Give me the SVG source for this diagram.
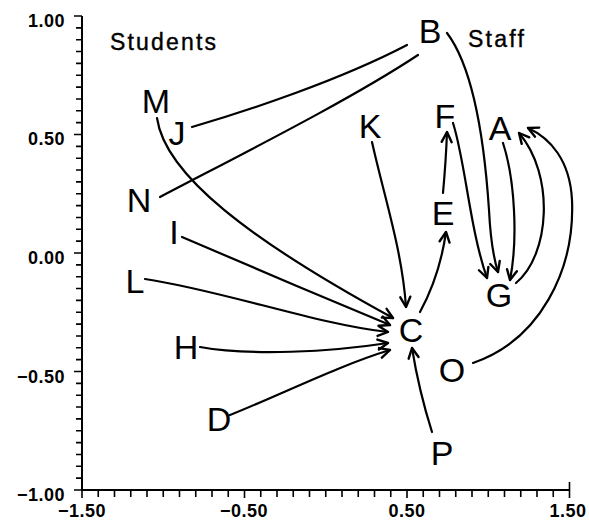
<svg xmlns="http://www.w3.org/2000/svg" width="589" height="521" viewBox="0 0 589 521">
<style>
.ax{stroke:#000;stroke-width:2;fill:none}
.tk{stroke:#000;stroke-width:1.6}
.tl{font-family:"Liberation Sans",Arial,sans-serif;font-size:18px;font-weight:bold;letter-spacing:0.5px;fill:#000}
.grp{font-family:"Liberation Sans",Arial,sans-serif;font-size:23px;fill:#000;stroke:#000;stroke-width:0.4}
.nd{font-family:"Liberation Sans",Arial,sans-serif;font-size:34px;fill:#000;text-anchor:middle}
.e{stroke:#000;stroke-width:2.2;fill:none;stroke-linecap:round}
.a{marker-end:url(#ar)}
</style>
<defs>
<marker id="ar" markerUnits="userSpaceOnUse" markerWidth="14" markerHeight="14" refX="0" refY="0" viewBox="-11 -7 14 14" orient="auto" overflow="visible">
<path d="M-10,-5 L0,0 L-10,5" fill="none" stroke="#000" stroke-width="2.4" stroke-linecap="round" stroke-linejoin="round"/>
</marker>
</defs>
<g id="axes">
<path class="ax" d="M82,16 L82,490 L570,490"/>
<path class="tk" d="M74,16H82M76,27.85H82M76,39.7H82M76,51.55H82M76,63.4H82M76,75.25H82M76,87.1H82M76,98.95H82M76,110.8H82M76,122.65H82M74,134.5H82M76,146.35H82M76,158.2H82M76,170.05H82M76,181.9H82M76,193.75H82M76,205.6H82M76,217.45H82M76,229.3H82M76,241.15H82M74,253H82M76,264.85H82M76,276.7H82M76,288.55H82M76,300.4H82M76,312.25H82M76,324.1H82M76,335.95H82M76,347.8H82M76,359.65H82M74,371.5H82M76,383.35H82M76,395.2H82M76,407.05H82M76,418.9H82M76,430.75H82M76,442.6H82M76,454.45H82M76,466.3H82M76,478.15H82M74,490H82"/>
<path class="tk" d="M82,490V498M98.25,490V497M114.5,490V497M130.75,490V497M147,490V497M163.25,490V497M179.5,490V497M195.75,490V497M212,490V497M228.25,490V497M244.5,490V498M260.75,490V497M277,490V497M293.25,490V497M309.5,490V497M325.75,490V497M342,490V497M358.25,490V497M374.5,490V497M390.75,490V497M407,490V498M423.25,490V497M439.5,490V497M455.75,490V497M472,490V497M488.25,490V497M504.5,490V497M520.75,490V497M537,490V497M553.25,490V497M569.5,490V498M569.5,482V490"/>
<g class="tl" text-anchor="end">
<text x="65" y="27">1.00</text>
<text x="65" y="145">0.50</text>
<text x="65" y="264">0.00</text>
<text x="65" y="383">−0.50</text>
<text x="65" y="501">−1.00</text>
</g>
<g class="tl" text-anchor="middle">
<text x="82" y="517">−1.50</text>
<text x="244" y="517">−0.50</text>
<text x="407" y="517">0.50</text>
<text x="568" y="517">1.50</text>
</g>
<text class="grp" x="110" y="50" textLength="106" lengthAdjust="spacing">Students</text>
<text class="grp" x="468" y="47" textLength="56" lengthAdjust="spacing">Staff</text>
</g>
<g id="connectors">
<path class="e" d="M192,127 C250,110 340,80 407,45"/>
<path class="e" d="M160,197 C240,155 350,100 418,55"/>
<path class="e a" d="M157,118 C165,175 250,240 393,318"/>
<path class="e a" d="M182,237 C230,258 330,300 390,325"/>
<path class="e a" d="M145,279 C220,290 320,325 388,332"/>
<path class="e a" d="M200,347 C250,356 330,352 388,343"/>
<path class="e a" d="M230,415 C280,395 340,365 390,350"/>
<path class="e a" d="M372,142 C385,200 402,250 406,307"/>
<path class="e a" d="M420,312 C432,290 442,260 446,232"/>
<path class="e a" d="M443,193 Q446,160 447,132"/>
<path class="e a" d="M453,123 C465,160 470,230 487,278"/>
<path class="e a" d="M447,33 C475,70 485,150 489,210 Q491,250 498,272"/>
<path class="e a" d="M503,143 C515,180 518,240 510,280"/>
<path class="e a" d="M516,283 C550,255 555,175 519,133"/>
<path class="e a" d="M473,363 C540,340 575,270 572,200 C570,160 550,138 528,128"/>
<path class="e a" d="M432,432 C425,410 418,385 412,348"/>
</g>
<g id="node-A"><text class="nd" x="500" y="140">A</text></g>
<g id="node-B"><text class="nd" x="430" y="43">B</text></g>
<g id="node-C"><text class="nd" x="411" y="342">C</text></g>
<g id="node-D"><text class="nd" x="219" y="431">D</text></g>
<g id="node-E"><text class="nd" x="443" y="225">E</text></g>
<g id="node-F"><text class="nd" x="445" y="128">F</text></g>
<g id="node-G"><text class="nd" x="499" y="307">G</text></g>
<g id="node-H"><text class="nd" x="186" y="359">H</text></g>
<g id="node-I"><text class="nd" x="174" y="244">I</text></g>
<g id="node-J"><text class="nd" x="177" y="145">J</text></g>
<g id="node-K"><text class="nd" x="370" y="138">K</text></g>
<g id="node-L"><text class="nd" x="135" y="293">L</text></g>
<g id="node-M"><text class="nd" x="156" y="113">M</text></g>
<g id="node-N"><text class="nd" x="139" y="212">N</text></g>
<g id="node-O"><text class="nd" x="452" y="382">O</text></g>
<g id="node-P"><text class="nd" x="442" y="465">P</text></g>
</svg>
